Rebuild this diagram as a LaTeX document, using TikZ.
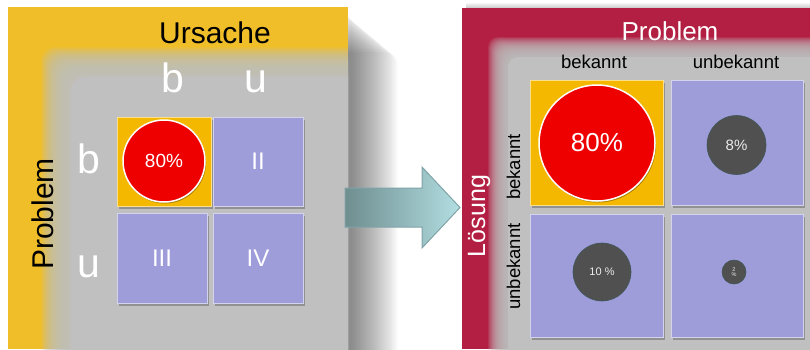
\documentclass[tikz,border=0pt]{standalone}
\usepackage{fontspec}
\setmainfont{Liberation Sans}
\usetikzlibrary{shadows}
\definecolor{pyellow}{HTML}{F0BE28}
\definecolor{pgray}{HTML}{C0C0C0}
\definecolor{pcrimson}{HTML}{B31F42}
\definecolor{corange}{HTML}{F4B800}
\definecolor{clav}{HTML}{9E9DDA}
\definecolor{cred}{HTML}{EE0000}
\definecolor{cdark}{HTML}{505050}
\definecolor{acyan}{HTML}{B2DEE2}
\definecolor{aedge}{HTML}{7FA3A6}
\definecolor{adark}{HTML}{6F8E90}
\begin{document}
\begin{tikzpicture}[x=1pt,y=-1pt,
  cell/.style={rectangle, inner sep=0pt, line width=0.8pt,
    drop shadow={shadow xshift=2pt, shadow yshift=-2.5pt, opacity=0.4, fill=black!70}},
  lavcell/.style={cell, fill=clav, draw=white!55!clav, text=white},
  orcell/.style={cell, fill=corange, draw=white!55!corange},
  redball/.style={circle, inner sep=0pt, fill=cred, draw=white, line width=1.5pt, text=white,
    drop shadow={shadow xshift=1pt, shadow yshift=-1.5pt, opacity=0.3, fill=black}},
  darkball/.style={circle, inner sep=0pt, fill=cdark, draw=cdark!80!teal, line width=0.6pt, text=white!92!black},
  fs/.style={font=\fontsize{#1}{#1}\selectfont}
]
\useasboundingbox (0,0) rectangle (810,349);

% ---------- shadow right of left panel ----------
\foreach \i in {0,...,24}
  \fill[black, opacity=0.024, rounded corners=12pt] (340,14+\i*1.6) rectangle (352+\i*1.9,370);

% ---------- left panel ----------
\begin{scope}
  \clip (8,7) rectangle (348,349);
  \fill[pyellow] (8,7) rectangle (348,349);
  \foreach \i in {0,...,29}
    \fill[pgray, opacity=0.1, rounded corners=14pt] (41+\i,47+\i) rectangle (380,380);
  \fill[pgray, rounded corners=14pt] (71,77) rectangle (380,380);
\end{scope}

% ---------- right panel ----------
\shade[top color=white, bottom color=black!22] (466,2) rectangle (810,8);
\begin{scope}
  \clip (462,8) rectangle (810,349);
  \fill[pcrimson] (462,8) rectangle (810,349);
  \foreach \i in {0,...,19}
    \fill[pgray, opacity=0.14, rounded corners=10pt] (488+\i,37+\i) rectangle (840,380);
  \fill[pgray, rounded corners=10pt] (508,57) rectangle (840,380);
\end{scope}

% ---------- arrow ----------
\coordinate (atail) at (345,207.5);
\coordinate (atip) at (460,207.5);
\draw[left color=adark, middle color=acyan, right color=acyan, draw=aedge, line width=1pt, line join=miter]
  (345,188) -- (422,188) -- (422,167) -- (atip) -- (422,248) -- (422,227) -- (345,227) -- cycle;

% ---------- left labels ----------
\node[anchor=base, fs=30] (ursache) at (215,43) {Ursache};
\node[anchor=base, fs=30, rotate=90] (problemL) at (53,214) {Problem};
\node[anchor=base, fs=41, text=white] (colb) at (173,92) {b};
\node[anchor=base, fs=41, text=white] (colu) at (256,92) {u};
\node[anchor=base, fs=41, text=white] (rowb) at (89,173) {b};
\node[anchor=base, fs=41, text=white] (rowu) at (89,277) {u};

% ---------- left cells ----------
\node[orcell, minimum width=94, minimum height=89] (c11) at (164,161.5) {};
\node[lavcell, minimum width=90, minimum height=89, fs=24] (c12) at (258,161.5) {II};
\node[lavcell, minimum width=90, minimum height=90, fs=24] (c21) at (162,258) {III};
\node[lavcell, minimum width=90, minimum height=90, fs=24] (c22) at (258,258) {IV};
\node[redball, minimum size=82, fs=19] (b11) at (164,161) {80\%};

% ---------- right labels ----------
\node[anchor=base, fs=26, text=white] (problemR) at (670,40) {Problem};
\node[anchor=base, fs=25, text=white, rotate=90] (loesung) at (485,216) {Lösung};
\node[anchor=base, fs=18.5] (pbek) at (594,68) {bekannt};
\node[anchor=base, fs=18.5] (punbek) at (736,68) {unbekannt};
\node[anchor=base, fs=18.5, rotate=90] (lbek) at (520,167) {bekannt};
\node[anchor=base, fs=18.5, rotate=90] (lunbek) at (520,266.5) {unbekannt};

% ---------- right cells ----------
\node[orcell, minimum width=133, minimum height=125] (r11) at (596.5,142.5) {};
\node[lavcell, minimum width=132, minimum height=125] (r12) at (737,142.5) {};
\node[lavcell, minimum width=133, minimum height=123] (r21) at (596.5,275.5) {};
\node[lavcell, minimum width=132, minimum height=123] (r22) at (737,275.5) {};

\node[redball, minimum size=116, fs=26] (s11) at (597,143) {80\%};
\node[darkball, minimum size=59, fs=15] (s12) at (736.5,145) {8\%};
\node[darkball, minimum size=58, fs=11] (s21) at (602,272) {10 \%};
\node[darkball, minimum size=24, font=\fontsize{5.5}{5.5}\selectfont, align=center] (s22) at (734,272) {2\\\%};
\end{tikzpicture}
\end{document}
